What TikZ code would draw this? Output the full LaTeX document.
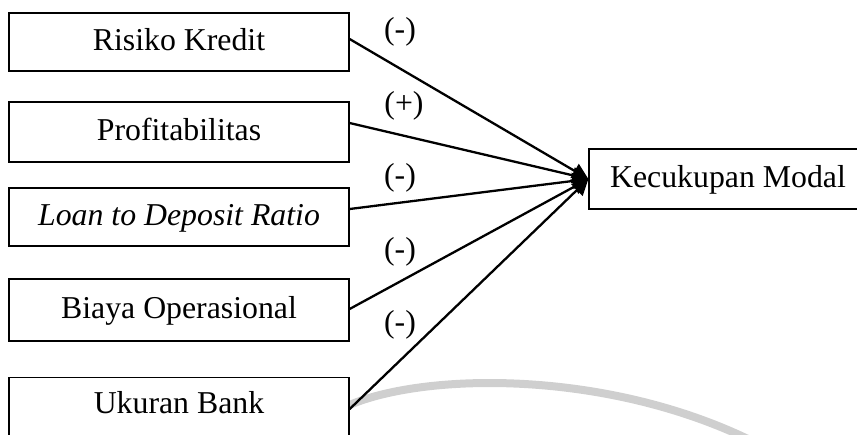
\documentclass[tikz,border=0pt]{standalone}
\usepackage{fontspec}
\setmainfont{Liberation Serif}
\usetikzlibrary{arrows.meta,calc}
\begin{document}
\begin{tikzpicture}[x=0.5pt,y=-0.5pt,
  txt/.style={font=\fontsize{15.9}{19}\selectfont},
  box/.style={txt,draw,fill=white,line width=0.6pt,minimum width=170pt,inner sep=0pt,text height=0.8em,text depth=0pt},
  lbl/.style={txt,inner sep=0pt},
  conn/.style={line width=1.15pt,-{Triangle[length=8pt,width=8pt]}},
  wmark/.style={line width=4pt,color=black!19}]
\useasboundingbox (0,0) rectangle (857,434);
\clip (0,0) rectangle (857,434);
\draw[wmark] (345,407) .. controls (420,372) and (610,368) .. (760,445);
\node[box,minimum height=29pt] (rk) at (179,42) {Risiko Kredit};
\node[box,minimum height=30pt] (pr) at (179,132) {Profitabilitas};
\node[box,minimum height=29pt] (ldr) at (179,217) {\itshape Loan to Deposit Ratio};
\node[box,minimum height=31pt] (bo) at (179,310) {Biaya Operasional};
\node[box,anchor=north,text height=18pt,text depth=20pt] (ub) at (179,377) {Ukuran Bank};
\node[box,minimum width=139pt,minimum height=30pt] (km) at (728,179) {Kecukupan Modal};
\draw[conn] ([yshift=1.5pt]rk.east) -- (km.west);
\draw[conn] ([yshift=4.5pt]pr.east) -- (km.west);
\draw[conn] ([yshift=4pt]ldr.east) -- (km.west);
\draw[conn] ([yshift=0.5pt]bo.east) -- (km.west);
\draw[conn] ([yshift=3.25pt]ub.east) -- (km.west);
\node[lbl] (l1) at (400,32) {(-)};
\node[lbl] (l2) at (404,106) {(+)};
\node[lbl] (l3) at (400,178) {(-)};
\node[lbl] (l4) at (400,252) {(-)};
\node[lbl] (l5) at (400,325) {(-)};
\end{tikzpicture}
\end{document}
